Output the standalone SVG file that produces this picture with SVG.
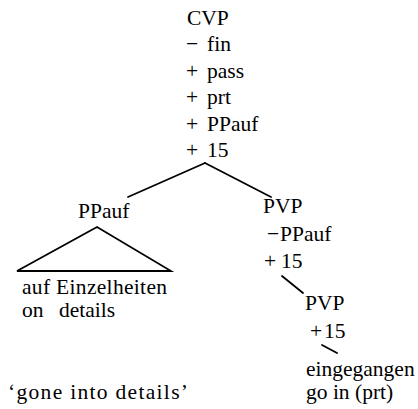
<svg xmlns="http://www.w3.org/2000/svg" width="418" height="409" viewBox="0 0 418 409">
  <style>
    .t { font-family: "Liberation Serif", "Times New Roman", Times, serif; font-size: 21.5px; fill: #000; }
    .edge { stroke: #000; stroke-width: 1.8; fill: none; stroke-linecap: round; }
    .roof { stroke: #000; stroke-width: 1.8; fill: none; stroke-linejoin: miter; }
  </style>
  <rect width="418" height="409" fill="#fff"/>

  <!-- tree edges -->
  <g id="connectors">
    <line class="edge" x1="205" y1="163" x2="128" y2="197"/>
    <line class="edge" x1="205" y1="163" x2="271" y2="197"/>
    <line class="edge" x1="282" y1="276" x2="303" y2="293"/>
    <line class="edge" x1="322" y1="345" x2="337" y2="353"/>
  </g>

  <g class="t">
    <!-- root: CVP with its features -->
    <g id="cvp">
      <text x="187" y="25">CVP</text>
      <text y="51"><tspan x="186">−</tspan><tspan x="207">fin</tspan></text>
      <text y="77.5"><tspan x="186">+</tspan><tspan x="207">pass</tspan></text>
      <text y="104"><tspan x="186">+</tspan><tspan x="207">prt</tspan></text>
      <text y="130.5"><tspan x="186">+</tspan><tspan x="207">PPauf</tspan></text>
      <text y="157"><tspan x="186">+</tspan><tspan x="207">15</tspan></text>
    </g>

    <!-- left daughter: PPauf with collapsed subtree -->
    <g id="ppauf">
      <text x="78" y="218">PPauf</text>
      <polygon class="roof" points="97,227 17,271 171,271"/>
      <text x="22" y="294" textLength="145" lengthAdjust="spacing">auf Einzelheiten</text>
      <text y="317"><tspan x="22">on</tspan><tspan x="59">details</tspan></text>
    </g>

    <!-- right daughter: PVP -->
    <g id="pvp-upper">
      <text x="263" y="213">PVP</text>
      <text y="241"><tspan x="267">−</tspan><tspan x="280">PPauf</tspan></text>
      <text y="268"><tspan x="264">+</tspan><tspan x="281">15</tspan></text>
    </g>

    <!-- lower PVP -->
    <g id="pvp-lower">
      <text x="305" y="310">PVP</text>
      <text y="338"><tspan x="310">+</tspan><tspan x="324">15</tspan></text>
    </g>

    <!-- verb leaf -->
    <g id="verb">
      <text x="306" y="376">eingegangen</text>
      <text x="306" y="399">go in (prt)</text>
    </g>

    <!-- free translation -->
    <g id="gloss">
      <text x="8" y="399" textLength="180" lengthAdjust="spacing">‘gone into details’</text>
    </g>
  </g>
</svg>
